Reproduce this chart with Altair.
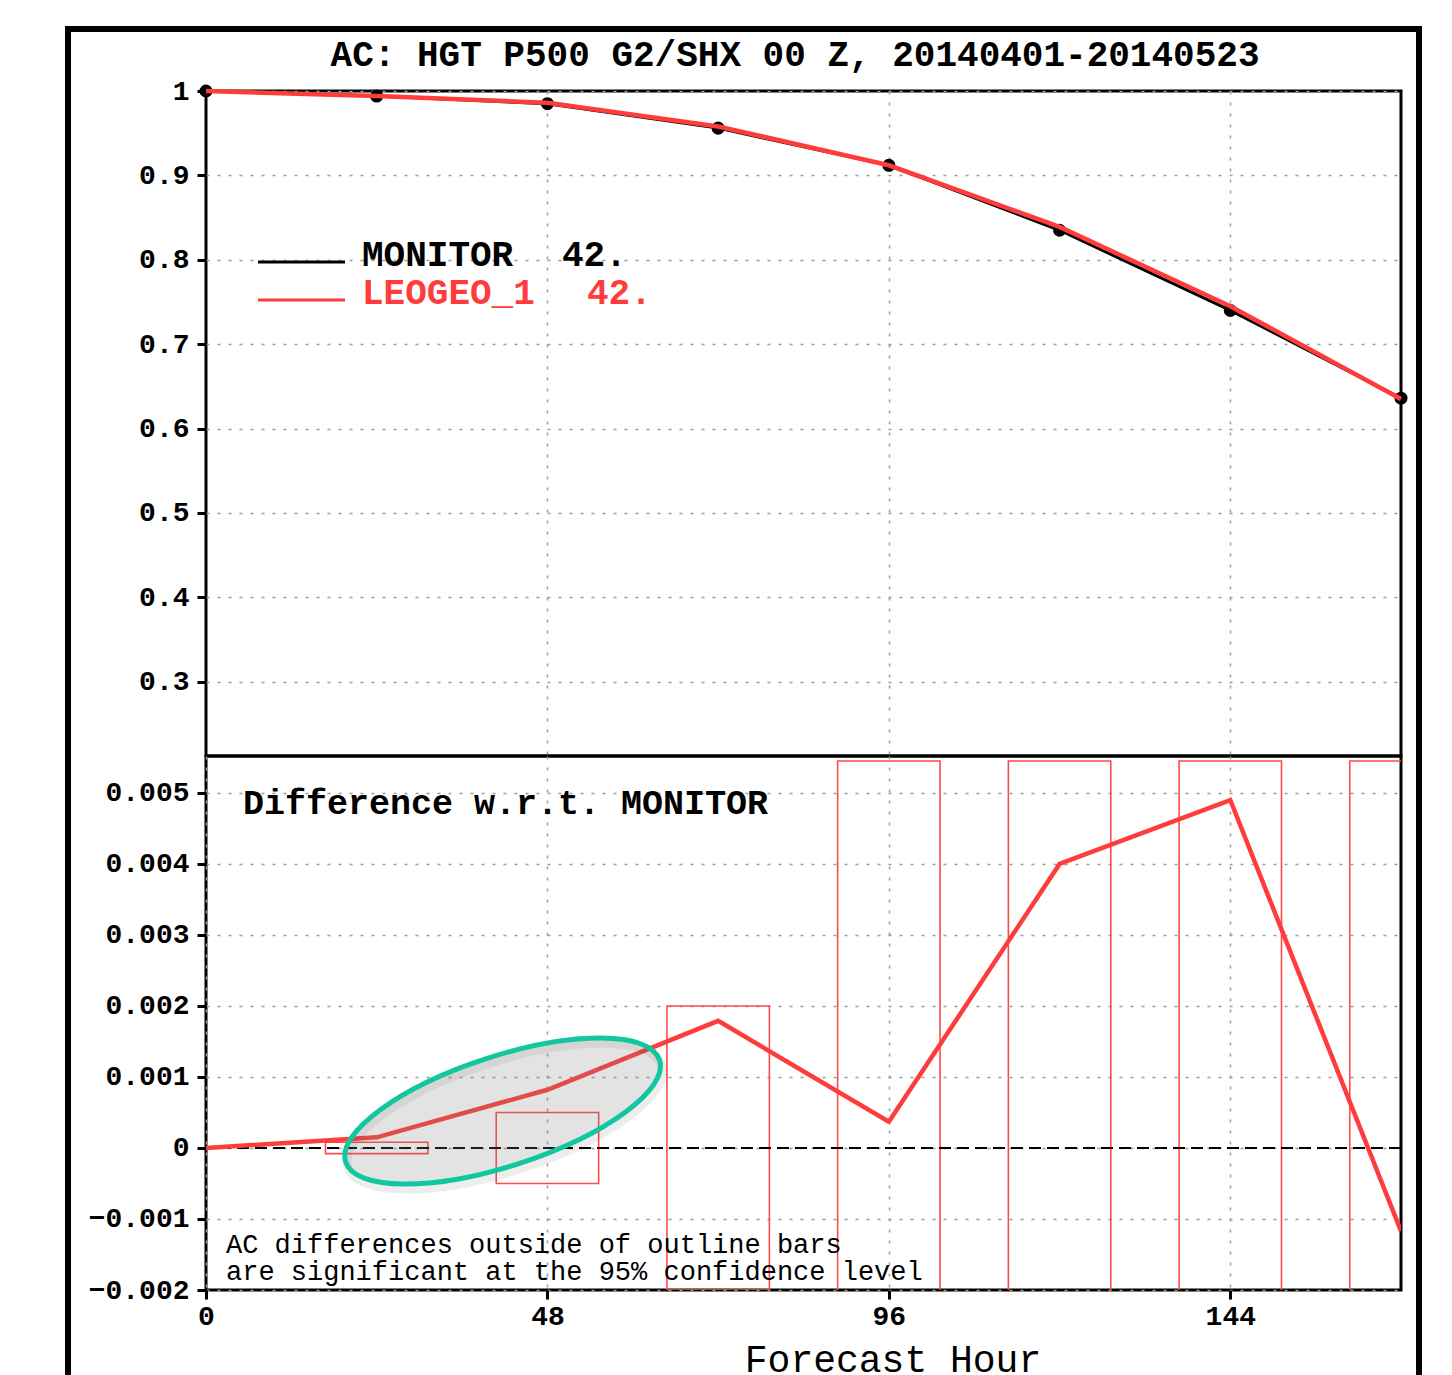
import altair as alt
import pandas as pd

# ---------------- data ----------------
HOURS = [0, 24, 48, 72, 96, 120, 144, 168]
MONITOR_AC = [1.0, 0.994, 0.985, 0.956, 0.912, 0.835, 0.740, 0.636]
LEOGEO_AC = [1.0, 0.994, 0.986, 0.958, 0.912, 0.839, 0.745, 0.635]
DIFF = [0.0, 0.00015, 0.00082, 0.00179, 0.00037, 0.0040, 0.0049, -0.00117]

BOX_HOURS = [24, 48, 72, 96, 120, 144, 168]
BOX_HI = [0.00008, 0.0005, 0.0020, 0.00545, 0.00545, 0.00545, 0.00545]
BOX_LO = [-0.00008, -0.0005, -0.0020, -0.0060, -0.0060, -0.0060, -0.0060]

SERIES = ["MONITOR", "LEOGEO_1"]
CASES = ["42.", "42."]

X_TICKS = [0, 48, 96, 144]
X_GRID = [48, 96, 144]
TOP_Y_TICKS = [0.3, 0.4, 0.5, 0.6, 0.7, 0.8, 0.9, 1.0]
BOT_Y_TICKS = [-0.002, -0.001, 0.0, 0.001, 0.002, 0.003, 0.004, 0.005]

TITLE = "AC: HGT P500 G2/SHX 00 Z, 20140401-20140523"
PANEL_LABEL = "Difference w.r.t. MONITOR"
NOTE = "AC differences outside of outline bars\nare significant at the 95% confidence level"
XLABEL = "Forecast Hour"

HIGHLIGHT_HOUR = [41.7]
HIGHLIGHT_VAL = [0.00052]

# ---------------- styling ----------------
FONT = "Liberation Mono"
RED = "#ff3c3c"
BOX_RED = "#ff4a4a"
TEAL = "#12c7a0"
GRID = "#9c9c9c"
W = 1195
H_TOP = 665
H_BOT = 534
BOX_HALF_WIDTH = 7.2

ac_df = pd.DataFrame({
    "hour": HOURS * 2,
    "ac": MONITOR_AC + LEOGEO_AC,
    "series": [SERIES[0]] * len(HOURS) + [SERIES[1]] * len(HOURS),
})
diff_df = pd.DataFrame({"hour": HOURS, "diff": DIFF})
box_df = pd.DataFrame({"hour": BOX_HOURS, "lo": BOX_LO, "hi": BOX_HI})
box_df["x0"] = box_df["hour"] - BOX_HALF_WIDTH
box_df["x1"] = box_df["hour"] + BOX_HALF_WIDTH
ell_df = pd.DataFrame({"hour": HIGHLIGHT_HOUR, "diff": HIGHLIGHT_VAL})

xscale = alt.Scale(domain=[0, 168], nice=False, zero=False)
top_yscale = alt.Scale(domain=[0.212, 1.0], nice=False, zero=False)
bot_yscale = alt.Scale(domain=[-0.002, 0.00552], nice=False, zero=False)

grid_kw = dict(grid=True, gridColor=GRID, gridDash=[3, 8], gridWidth=1.5)

top_x_axis = alt.Axis(values=X_GRID, labels=False, ticks=False, domain=False,
                      title=None, **grid_kw)
top_y_axis = alt.Axis(values=TOP_Y_TICKS, title=None, domain=False,
                      labelExpr="datum.value > 0.999 ? '1' : format(datum.value, '.1f')",
                      labelFont=FONT, labelFontWeight="bold", labelFontSize=28,
                      labelColor="black", tickColor="black", tickWidth=3,
                      tickSize=9, labelPadding=8, labelFlush=False, **grid_kw)
bot_x_axis = alt.Axis(values=X_TICKS, title=None, domain=False,
                      labelFont=FONT, labelFontWeight="bold", labelFontSize=28,
                      labelColor="black", tickColor="black", tickWidth=3,
                      tickSize=9, labelPadding=3, labelFlush=False, **grid_kw)
bot_y_axis = alt.Axis(values=BOT_Y_TICKS, title=None, domain=False,
                      labelExpr="abs(datum.value) < 1e-9 ? '0' : format(datum.value, '.3f')",
                      labelFont=FONT, labelFontWeight="bold", labelFontSize=28,
                      labelColor="black", tickColor="black", tickWidth=3,
                      tickSize=9, labelPadding=8, labelFlush=False, **grid_kw)

one = pd.DataFrame({"k": [0]})

# ---------------- top panel ----------------
mon_line = alt.Chart(ac_df).transform_filter(
    alt.datum.series == SERIES[0]).mark_line(color="black", strokeWidth=3).encode(
    x=alt.X("hour:Q", scale=xscale, axis=top_x_axis),
    y=alt.Y("ac:Q", scale=top_yscale, axis=top_y_axis))
mon_pts = alt.Chart(ac_df).transform_filter(
    alt.datum.series == SERIES[0]).mark_point(
    shape="circle", filled=True, color="black", size=170, opacity=1).encode(
    x=alt.X("hour:Q", scale=xscale, title=None),
    y=alt.Y("ac:Q", scale=top_yscale, title=None))
leo_line = alt.Chart(ac_df).transform_filter(
    alt.datum.series == SERIES[1]).mark_line(color=RED, strokeWidth=4.5).encode(
    x=alt.X("hour:Q", scale=xscale, title=None),
    y=alt.Y("ac:Q", scale=top_yscale, title=None))

frame_left = alt.Chart(one).mark_rule(color="black", strokeWidth=6, clip=False).encode(
    x=alt.value(-138), y=alt.value(-65), y2=alt.value(1289))
frame_right = alt.Chart(one).mark_rule(color="black", strokeWidth=6, clip=False).encode(
    x=alt.value(1213), y=alt.value(-65), y2=alt.value(1289))
frame_top = alt.Chart(one).mark_rule(color="black", strokeWidth=6, clip=False).encode(
    x=alt.value(-141), x2=alt.value(1216), y=alt.value(-62))

title_txt = alt.Chart(pd.DataFrame({"t": [TITLE]})).mark_text(
    font=FONT, fontWeight="bold", fontSize=36, align="center",
    baseline="alphabetic", color="black").encode(
    text="t:N", x=alt.value(589), y=alt.value(-25))

legend_layers = []
leg_colors = ["black", RED]
leg_case_x = [356, 381]
for i, (name, case) in enumerate(zip(SERIES, CASES)):
    ly = 171 + 38 * i
    legend_layers.append(alt.Chart(one).mark_rule(color=leg_colors[i], strokeWidth=3).encode(
        x=alt.value(52), x2=alt.value(139), y=alt.value(ly)))
    legend_layers.append(alt.Chart(pd.DataFrame({"t": [name]})).mark_text(
        font=FONT, fontWeight="bold", fontSize=36, align="left",
        baseline="alphabetic", color=leg_colors[i]).encode(
        text="t:N", x=alt.value(156), y=alt.value(ly + 4)))
    legend_layers.append(alt.Chart(pd.DataFrame({"t": [case]})).mark_text(
        font=FONT, fontWeight="bold", fontSize=36, align="left",
        baseline="alphabetic", color=leg_colors[i]).encode(
        text="t:N", x=alt.value(leg_case_x[i]), y=alt.value(ly + 4)))

top = alt.layer(mon_line, mon_pts, leo_line, *legend_layers, title_txt,
                frame_left, frame_right, frame_top).properties(width=W, height=H_TOP)

# ---------------- bottom panel ----------------
boxes = alt.Chart(box_df).mark_rect(fill=None, fillOpacity=0, stroke=BOX_RED,
                                    strokeWidth=1.6, clip=True).encode(
    x=alt.X("x0:Q", scale=xscale, axis=bot_x_axis),
    x2="x1:Q",
    y=alt.Y("lo:Q", scale=bot_yscale, axis=bot_y_axis),
    y2="hi:Q")
zero = alt.Chart(pd.DataFrame({"zero": [0.0]})).mark_rule(
    color="black", strokeWidth=2, strokeDash=[12, 6]).encode(
    y=alt.Y("zero:Q", scale=bot_yscale, title=None))
diff_line = alt.Chart(diff_df).mark_line(color=RED, strokeWidth=4.5, clip=True).encode(
    x=alt.X("hour:Q", scale=xscale, title=None),
    y=alt.Y("diff:Q", scale=bot_yscale, title=None))

panel_lbl = alt.Chart(pd.DataFrame({"t": [PANEL_LABEL]})).mark_text(
    font=FONT, fontWeight="bold", fontSize=35, align="left",
    baseline="alphabetic", color="black").encode(
    text="t:N", x=alt.value(37), y=alt.value(58))
note = alt.Chart(pd.DataFrame({"t": [NOTE]})).mark_text(
    font=FONT, fontSize=27, align="left", baseline="alphabetic",
    color="black", lineBreak="\n", lineHeight=27).encode(
    text="t:N", x=alt.value(20), y=alt.value(497))
xlabel = alt.Chart(pd.DataFrame({"t": [XLABEL]})).mark_text(
    font=FONT, fontSize=38, align="center", baseline="alphabetic",
    color="black").encode(
    text="t:N", x=alt.value(687), y=alt.value(616))

ELLIPSE = ("M -1 0 C -1 -0.184 -0.552 -0.333 0 -0.333 "
           "C 0.552 -0.333 1 -0.184 1 0 "
           "C 1 0.184 0.552 0.333 0 0.333 "
           "C -0.552 0.333 -1 0.184 -1 0 Z")
ell_shadow = alt.Chart(ell_df).mark_point(
    shape=ELLIPSE, size=108900, angle=342, filled=False, stroke="black",
    strokeOpacity=0.07, strokeWidth=9, opacity=1, xOffset=2, yOffset=5).encode(
    x=alt.X("hour:Q", scale=xscale, title=None),
    y=alt.Y("diff:Q", scale=bot_yscale, title=None))
ellipse = alt.Chart(ell_df).mark_point(
    shape=ELLIPSE, size=108900, angle=342, filled=True, fill="#7f7f7f",
    fillOpacity=0.22, stroke=TEAL, strokeWidth=5, strokeOpacity=1, opacity=1).encode(
    x=alt.X("hour:Q", scale=xscale, title=None),
    y=alt.Y("diff:Q", scale=bot_yscale, title=None))

bottom = alt.layer(boxes, zero, diff_line, panel_lbl, note, xlabel,
                   ell_shadow, ellipse).properties(width=W, height=H_BOT)

chart = alt.vconcat(top, bottom, spacing=0, bounds="flush").properties(
    padding={"left": 52, "top": 13, "right": 0, "bottom": 0},
    background="white",
).configure_view(stroke="black", strokeWidth=3)

chart.save("out.html", embed_options={"renderer": "svg", "actions": False})
